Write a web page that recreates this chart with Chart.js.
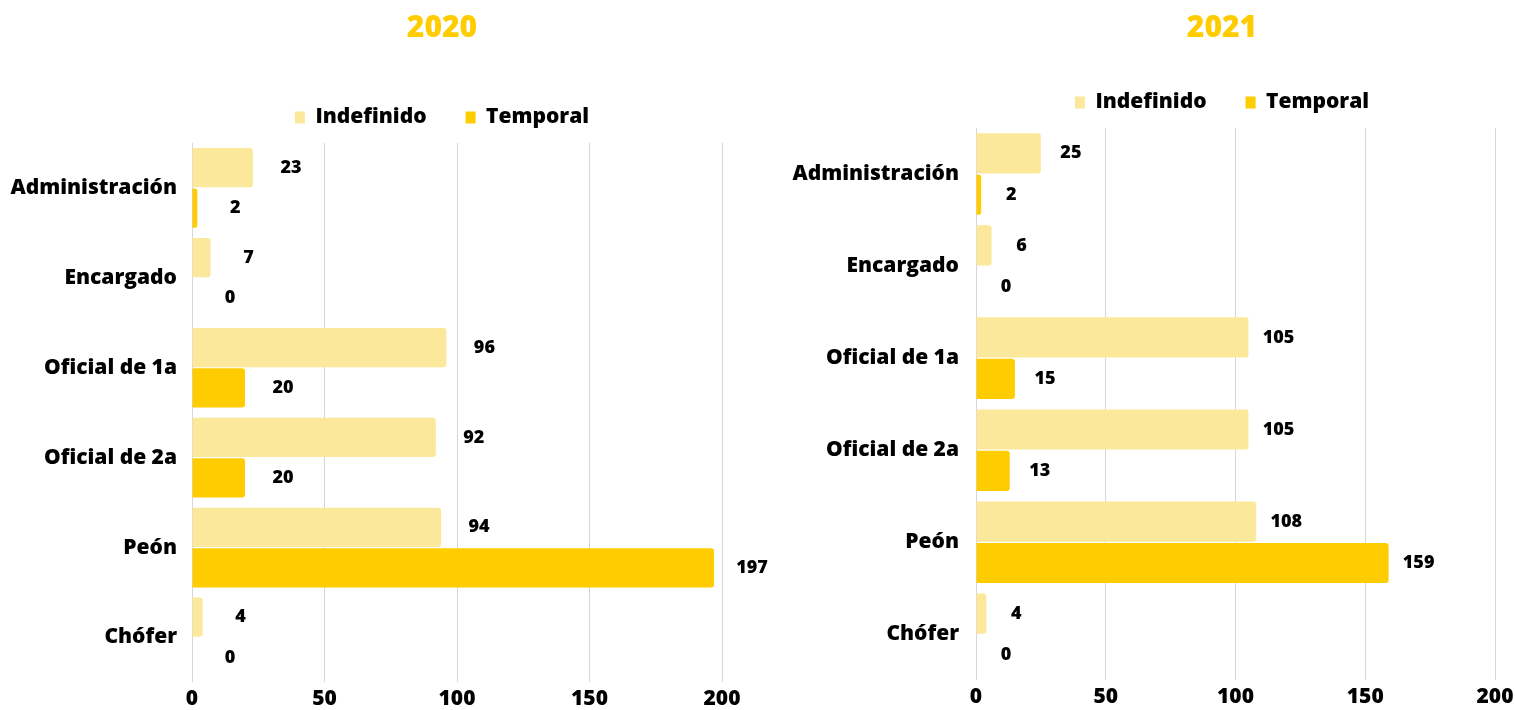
<!DOCTYPE html>
<html>
<head>
<meta charset="utf-8">
<script src="https://cdn.jsdelivr.net/npm/chart.js@4/dist/chart.umd.min.js"></script>
<style>
  html, body { margin: 0; padding: 0; background: #fff; overflow: hidden; width: 1515px; height: 710px; }
  .box { position: absolute; top: 0; width: 884px; height: 710px; }
  #boxA { left: 0; }
  #boxB { left: 780px; }
</style>
</head>
<body>
<div class="box" id="boxA"><canvas id="chart2020"></canvas></div>
<div class="box" id="boxB"><canvas id="chart2021"></canvas></div>
<script>
'use strict'

let labels = ['Administración', 'Encargado', 'Oficial de 1a', 'Oficial de 2a', 'Peón', 'Chófer'];
let ticksX = [0, 50, 100, 150, 200];

let indefinido2020 = [23, 7, 96, 92, 94, 4];
let temporal2020 = [2, 0, 20, 20, 197, 0];

let indefinido2021 = [25, 6, 105, 105, 108, 4];
let temporal2021 = [2, 0, 15, 13, 159, 0];

const colIndef = '#FBE89B';
const colTemp = '#FFCC00';
const font = "'Open Sans', sans-serif";
const W = 800;

Chart.defaults.font.family = font;
Chart.defaults.font.weight = W;
Chart.defaults.color = '#000';

// value labels next to bar ends
const valueLabels = {
    id: 'valueLabels',
    afterDatasetsDraw(chart, args, opts) {
        const ctx = chart.ctx;
        ctx.save();
        ctx.font = W + ' 18px ' + font;
        ctx.fillStyle = '#000';
        ctx.textAlign = 'center';
        ctx.textBaseline = 'middle';
        chart.data.datasets.forEach((ds, i) => {
            const meta = chart.getDatasetMeta(i);
            meta.data.forEach((bar, j) => {
                ctx.fillText(ds.data[j], bar.x + opts.offset, bar.y);
            });
        });
        ctx.restore();
    }
};

function makeConfig(title, indef, temp, o) {
    return {
        type: 'bar',
        data: {
            labels: labels,
            datasets: [
                { label: 'Indefinido', data: indef, backgroundColor: colIndef, borderRadius: 3 },
                { label: 'Temporal', data: temp, backgroundColor: colTemp, borderRadius: 3 }
            ]
        },
        options: {
            indexAxis: 'y',
            responsive: false,
            animation: false,
            categoryPercentage: 0.9,
            barPercentage: 0.97,
            layout: { padding: 0 },
            plugins: {
                title: {
                    display: true,
                    text: title,
                    color: colTemp,
                    font: { size: 30, weight: W },
                    padding: { top: 10, bottom: o.titleBottom }
                },
                legend: {
                    labels: {
                        boxWidth: 10,
                        boxHeight: 12,
                        padding: 39,
                        font: { size: 21, weight: W },
                        color: '#000'
                    }
                },
                tooltip: { enabled: false },
                valueLabels: { offset: o.labelOffset }
            },
            scales: {
                x: {
                    min: 0,
                    max: 200,
                    afterBuildTicks: (s) => { s.ticks = ticksX.map(v => ({ value: v })); },
                    afterFit: (s) => { s.height = 24; s.paddingRight = o.padRight; },
                    grid: { color: '#d6d6d6', drawTicks: false },
                    border: { display: false },
                    ticks: { padding: 4, font: { size: 21, weight: W }, color: '#000' }
                },
                // empty spacer between legend and plot
                gap: {
                    type: 'linear',
                    position: 'top',
                    display: true,
                    afterFit: (s) => { s.height = 5; },
                    grid: { display: false },
                    border: { display: false },
                    ticks: { display: false }
                },
                y: {
                    grid: { display: false, drawTicks: false },
                    border: { display: false },
                    afterFit: (s) => { s.width = o.yWidth; },
                    ticks: { padding: o.yPad, font: { size: 21, weight: W }, color: '#000' }
                }
            }
        },
        plugins: [valueLabels]
    };
}

function sizeCanvas(id) {
    const c = document.getElementById(id);
    c.width = 884;
    c.height = 710;
    c.style.width = '884px';
    c.style.height = '710px';
    return c;
}

const chart2020 = new Chart(
    sizeCanvas('chart2020'),
    makeConfig('2020', indefinido2020, temporal2020, { padRight: 162, yWidth: 192, yPad: 15, labelOffset: 38, titleBottom: 22 })
);

const chart2021 = new Chart(
    sizeCanvas('chart2021'),
    makeConfig('2021', indefinido2021, temporal2021, { padRight: 169, yWidth: 196, yPad: 17, labelOffset: 30, titleBottom: 7 })
);
</script>
</body>
</html>
